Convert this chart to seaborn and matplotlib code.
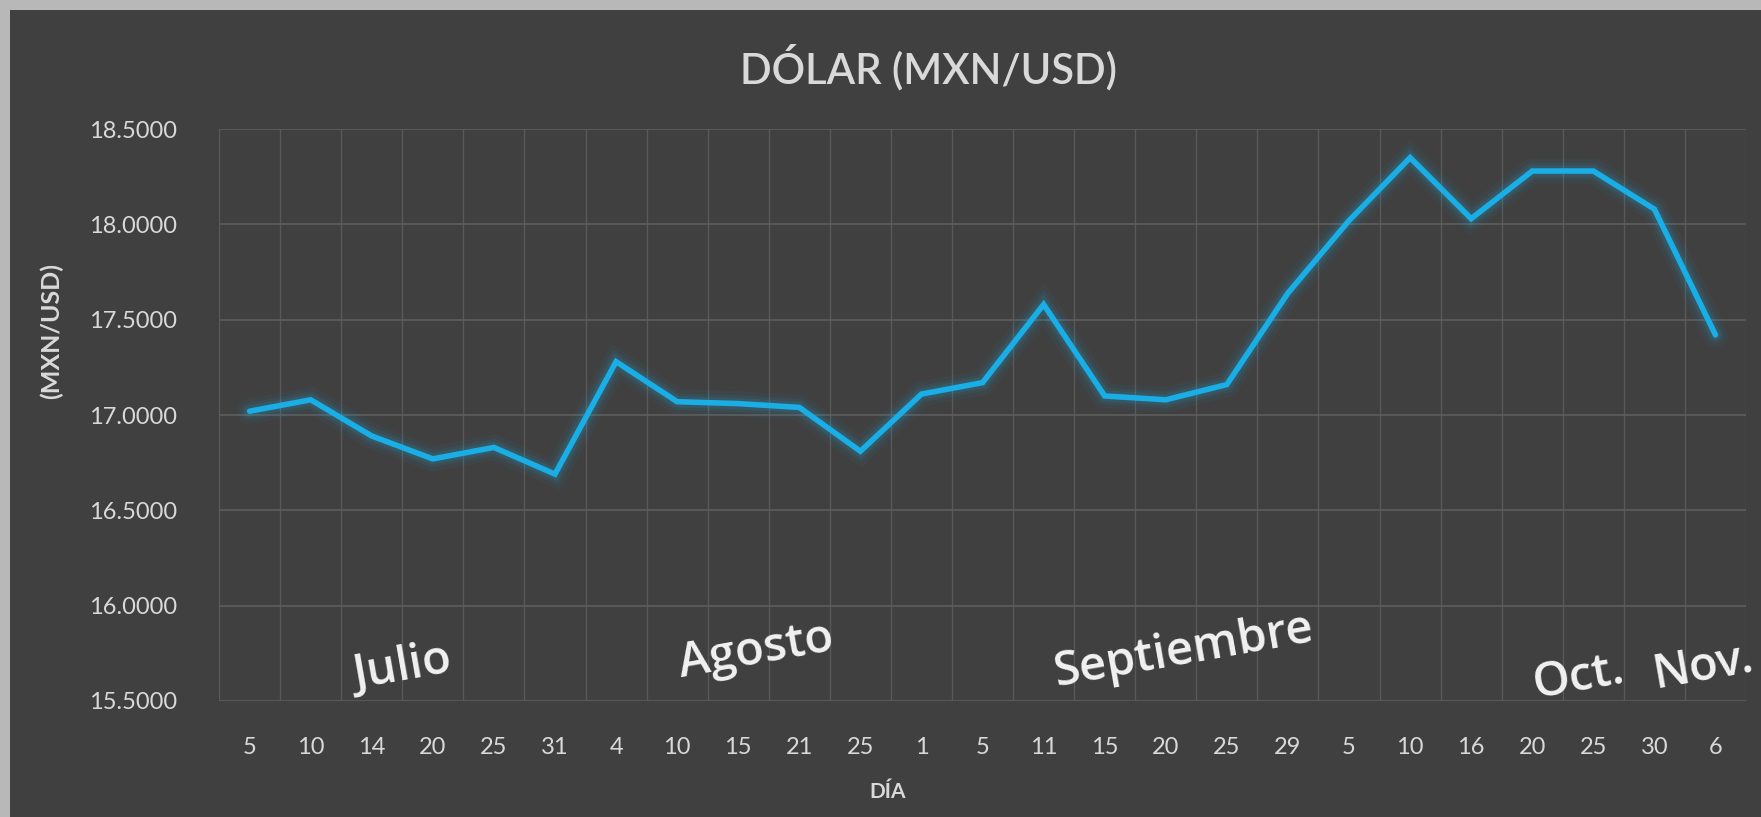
import numpy as np
import pandas as pd
import seaborn as sns
import matplotlib.pyplot as plt
from matplotlib.patches import Rectangle

# días de cotización (julio a noviembre)
dias = ['5', '10', '14', '20', '25', '31', '4', '10', '15', '21', '25', '1', '5',
        '11', '15', '20', '25', '29', '5', '10', '16', '20', '25', '30', '6']
tipo_cambio = [17.02, 17.08, 16.89, 16.77, 16.83, 16.69, 17.28, 17.07, 17.06,
               17.04, 16.81, 17.11, 17.17, 17.58, 17.10, 17.08, 17.16, 17.64,
               18.02, 18.35, 18.03, 18.28, 18.28, 18.08, 17.42]
meses = ['Julio', 'Agosto', 'Septiembre', 'Oct.', 'Nov.']
meses_pos = [2.5, 8.3, 15.3, 21.75, 23.8]
meses_y = [15.67, 15.76, 15.76, 15.62, 15.68]

df = pd.DataFrame({'idx': np.arange(len(dias)), 'valor': tipo_cambio})

sns.set_style("dark")
plt.rcParams['font.family'] = ['Lato', 'DejaVu Sans']

fondo = '#404040'
texto = '#d9d9d9'
azul = '#19aee6'

fig = plt.figure(figsize=(17.61, 8.17), dpi=100)
fig.patch.set_facecolor('#b8b8b8')
fig.patches.append(Rectangle((10 / 1761, 0), 1, 1 - 10 / 817, transform=fig.transFigure,
                             facecolor=fondo, edgecolor='none', zorder=-5))

ax = fig.add_axes([0.1244, 0.142, 0.9915 - 0.1244, 0.842 - 0.142])
ax.set_facecolor(fondo)

# brillo alrededor de la línea
for w, a in [(18, 0.05), (12, 0.08), (8, 0.12)]:
    sns.lineplot(data=df, x='idx', y='valor', ax=ax, color=azul, linewidth=w,
                 alpha=a, solid_joinstyle='miter', zorder=2)
sns.lineplot(data=df, x='idx', y='valor', ax=ax, color=azul, linewidth=4,
             solid_joinstyle='miter', zorder=3)

ax.set_xlim(-0.5, len(dias) - 0.5)
ax.set_ylim(15.5, 18.5)
ax.set_yticks(np.arange(15.5, 18.51, 0.5))
ax.set_yticklabels([f'{v:.4f}' for v in np.arange(15.5, 18.51, 0.5)])
ax.set_xticks(np.arange(len(dias)))
ax.set_xticklabels(dias)
ax.set_xticks(np.arange(-0.5, len(dias), 1), minor=True)

ax.grid(False)
ax.grid(True, axis='y', which='major', color='#5e5e5e', linewidth=1.2)
ax.grid(True, axis='x', which='minor', color='#595959', linewidth=1.0)
ax.tick_params(axis='both', which='both', length=0, colors=texto, labelsize=17)
ax.tick_params(axis='x', pad=26)
ax.tick_params(axis='y', pad=30)
for s in ax.spines.values():
    s.set_visible(False)

ax.set_xlabel('')
ax.set_ylabel('')

for m, xp, yp in zip(meses, meses_pos, meses_y):
    ax.text(xp, yp, m, fontsize=34, color='#f2f2f2', ha='center', va='center',
            rotation=10, family='Open Sans', fontweight='semibold', zorder=4)

fig.text(0.5275, 0.918, 'DÓLAR (MXN/USD)', fontsize=30, color=texto,
         fontweight='semibold', ha='center', va='center')
fig.text(0.504, 0.030, 'DÍA', fontsize=15, color=texto, fontweight='bold',
         ha='center', va='center')
fig.text(0.029, 0.595, '(MXN/USD)', fontsize=18, color=texto, fontweight='bold',
         rotation=90, ha='center', va='center')

plt.savefig('out.png', dpi=100, facecolor=fig.get_facecolor())
